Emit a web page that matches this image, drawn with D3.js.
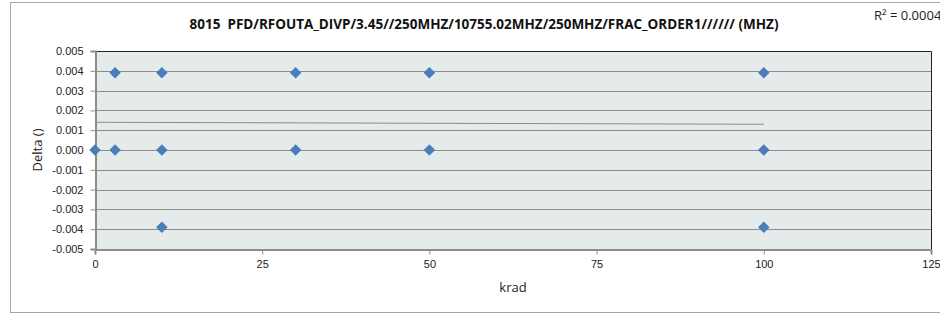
<!DOCTYPE html>
<html>
<head>
<meta charset="utf-8">
<script src="https://cdn.jsdelivr.net/npm/d3@7"></script>
<style>
  body { margin: 0; background: #fff; }
  svg { display: block; font-family: "Open Sans", "Noto Sans", sans-serif; }
</style>
</head>
<body>
<div id="chart"></div>
<script>
const width = 940;
const height = 315;

// krad vs Delta readings
const kradX = [0, 3, 3, 10, 10, 10, 30, 30, 50, 50, 100, 100, 100];
const deltaY = [0, 0.0039, 0, 0.0039, 0, -0.0039, 0.0039, 0, 0.0039, 0, 0.0039, 0, -0.0039];

// linear trendline ends
const trendX = [0, 100];
const trendY = [0.0014, 0.0013];

const xTicks = [0, 25, 50, 75, 100, 125];
const yTicks = [0.005, 0.004, 0.003, 0.002, 0.001, 0, -0.001, -0.002, -0.003, -0.004, -0.005];

const titleText = "8015  PFD/RFOUTA_DIVP/3.45//250MHZ/10755.02MHZ/250MHZ/FRAC_ORDER1////// (MHZ)";
const r2Text = "R² = 0.0004";

const margin = { left: 95, right: 9, top: 51, bottom: 66 };

const svg = d3.select("#chart")
  .append("svg")
  .attr("width", width)
  .attr("height", height);

// outer chart border
svg.append("rect")
  .attr("x", 10.5)
  .attr("y", 2.5)
  .attr("width", 940)
  .attr("height", 310)
  .attr("fill", "#fff")
  .attr("stroke", "#a6a6a6");

const x = d3.scaleLinear().domain([0, 125]).range([margin.left, width - margin.right]);
const y = d3.scaleLinear().domain([-0.005, 0.005]).range([height - margin.bottom, margin.top]);

// plot background
svg.append("rect")
  .attr("x", x(0))
  .attr("y", y(0.005))
  .attr("width", x(125) - x(0))
  .attr("height", y(-0.005) - y(0.005))
  .attr("fill", "#e5ebeb");

// gridlines
svg.append("g")
  .selectAll("line")
  .data(yTicks.filter(d => d > -0.005 && d < 0.005))
  .enter()
  .append("line")
  .attr("x1", x(0))
  .attr("x2", x(125))
  .attr("y1", d => Math.round(y(d)) + 0.5)
  .attr("y2", d => Math.round(y(d)) + 0.5)
  .attr("stroke", "#8c8c8c")
  .attr("stroke-width", 1);

// top and right border
svg.append("path")
  .attr("d", `M${x(0)},${Math.round(y(0.005)) + 0.5}H${Math.round(x(125)) + 0.5}V${y(-0.005)}`)
  .attr("fill", "none")
  .attr("stroke", "#222")
  .attr("stroke-width", 1);

// axes
const yAxis = svg.append("g")
  .attr("transform", `translate(${Math.round(x(0)) + 0.5},0)`)
  .call(d3.axisLeft(y).tickValues(yTicks).tickSize(5).tickPadding(7)
    .tickFormat(d => d3.format(".3f")(d).replace("−", "-")));

const xAxis = svg.append("g")
  .attr("transform", `translate(0,${Math.round(y(-0.005)) + 0.5})`)
  .call(d3.axisBottom(x).tickValues(xTicks).tickSize(5).tickPadding(6));

[yAxis, xAxis].forEach(a => {
  a.select(".domain").attr("stroke", "#8c8c8c").attr("stroke-width", 2);
  a.selectAll(".tick line").attr("stroke", "#8c8c8c");
  a.selectAll("text").attr("fill", "#222").style("font-size", "11px");
});

// trendline
svg.append("line")
  .attr("x1", x(trendX[0]))
  .attr("y1", y(trendY[0]))
  .attr("x2", x(trendX[1]))
  .attr("y2", y(trendY[1]))
  .attr("stroke", "#8a8a8a")
  .attr("stroke-width", 1);

// points
svg.append("g")
  .selectAll("path")
  .data(kradX.map((d, i) => [d, deltaY[i]]))
  .enter()
  .append("path")
  .attr("d", d3.symbol().type(d3.symbolDiamond2).size(85))
  .attr("transform", d => `translate(${x(d[0])},${y(d[1])})`)
  .attr("fill", "#4a7ebb");

// title
svg.append("text")
  .attr("x", 484)
  .attr("y", 29)
  .attr("text-anchor", "middle")
  .style("font-size", "13.5px")
  .style("font-weight", "bold")
  .style("white-space", "pre")
  .attr("fill", "#111")
  .text(titleText);

svg.append("text")
  .attr("x", 874)
  .attr("y", 20)
  .style("font-size", "13px")
  .attr("fill", "#222")
  .text(r2Text);

// axis titles
svg.append("text")
  .attr("x", (x(0) + x(125)) / 2)
  .attr("y", 292)
  .attr("text-anchor", "middle")
  .style("font-size", "13px")
  .attr("fill", "#222")
  .text("krad");

svg.append("text")
  .attr("transform", "translate(42,150) rotate(-90)")
  .attr("text-anchor", "middle")
  .style("font-size", "13px")
  .attr("fill", "#222")
  .text("Delta ()");
</script>
</body>
</html>
